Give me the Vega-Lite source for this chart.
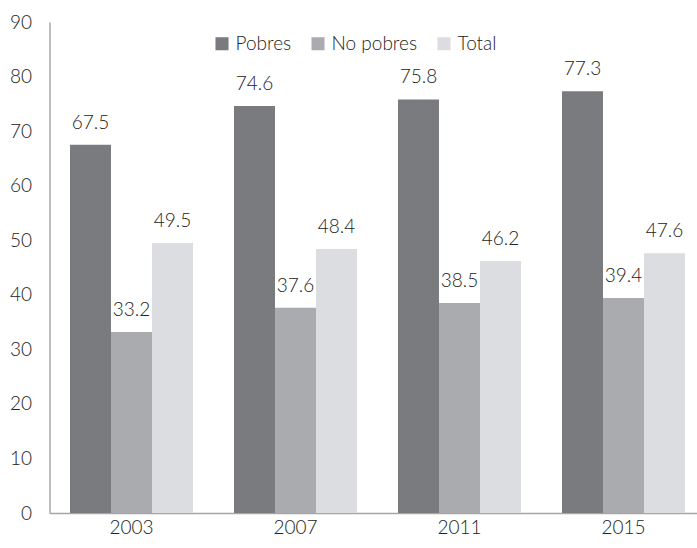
{
  "$schema": "https://vega.github.io/schema/vega-lite/v6.json",
  "width": 656,
  "height": 491,
  "autosize": {"type": "none"},
  "padding": {"left": 49.5, "top": 22, "right": 0, "bottom": 35},
  "background": "white",
  "config": {
    "view": {"stroke": null},
    "font": "Lato",
    "axis": {"labelFont": "Lato", "labelFontWeight": 300, "labelColor": "#222222", "labelFontSize": 19, "grid": false, "ticks": false, "domainColor": "#a6a6a6", "domainWidth": 1.5, "title": null}
  },
  "data": {
    "values": [
      {"year": "2003", "group": "Pobres", "value": 67.5},
      {"year": "2003", "group": "No pobres", "value": 33.2},
      {"year": "2003", "group": "Total", "value": 49.5},
      {"year": "2007", "group": "Pobres", "value": 74.6},
      {"year": "2007", "group": "No pobres", "value": 37.6},
      {"year": "2007", "group": "Total", "value": 48.4},
      {"year": "2011", "group": "Pobres", "value": 75.8},
      {"year": "2011", "group": "No pobres", "value": 38.5},
      {"year": "2011", "group": "Total", "value": 46.2},
      {"year": "2015", "group": "Pobres", "value": 77.3},
      {"year": "2015", "group": "No pobres", "value": 39.4},
      {"year": "2015", "group": "Total", "value": 47.6}
    ]
  },
  "encoding": {
    "x": {"field": "year", "type": "nominal", "scale": {"paddingInner": 0.25, "paddingOuter": 0.125}, "axis": {"labelAngle": 0, "labelPadding": 5}},
    "xOffset": {"field": "group", "type": "nominal", "sort": ["Pobres", "No pobres", "Total"], "scale": {"paddingInner": 0}},
    "y": {"field": "value", "type": "quantitative", "scale": {"domain": [0, 90]}, "axis": {"values": [0,10,20,30,40,50,60,70,80,90], "labelPadding": 18, "domain": true}}
  },
  "layer": [
    {
      "mark": {"type": "bar"},
      "encoding": {
        "color": {"field": "group", "type": "nominal", "sort": ["Pobres", "No pobres", "Total"],
          "scale": {"domain": ["Pobres", "No pobres", "Total"], "range": ["#7a7b7f", "#aaabae", "#dcdde0"]},
          "legend": {"title": null, "orient": "none", "direction": "horizontal", "legendX": 163, "legendY": 12, "symbolType": "square", "symbolSize": 170, "symbolStrokeWidth": 0, "labelFontSize": 19, "labelFontWeight": 300, "labelFont": "Lato", "labelColor": "#222222", "columnPadding": 17, "labelOffset": 4}
        }
      }
    },
    {
      "mark": {"type": "text", "dy": -22, "fontSize": 19, "fontWeight": 300, "color": "#222222", "font": "Lato"},
      "encoding": {
        "text": {"field": "value", "type": "quantitative", "format": ".1f"}
      }
    }
  ]
}
